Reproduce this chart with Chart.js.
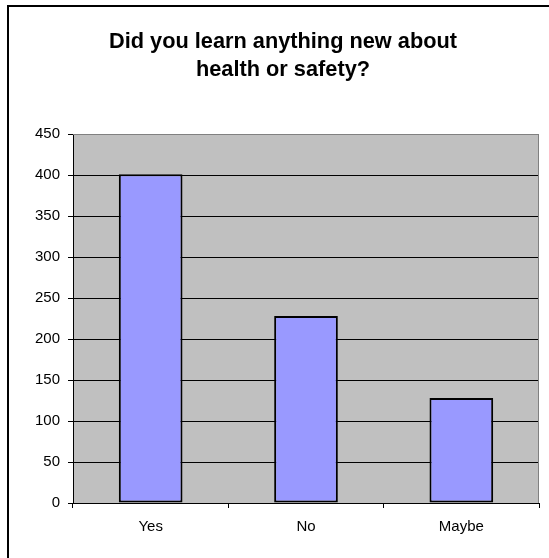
<!DOCTYPE html>
<html>
<head>
<meta charset="utf-8">
<title>Did you learn anything new about health or safety?</title>
<script src="https://cdn.jsdelivr.net/npm/chart.js@4.4.1/dist/chart.umd.min.js"></script>
<style>
    html, body { margin: 0; padding: 0; background: #fff; }
    #wrap { width: 549px; height: 558px; }
</style>
</head>
<body>
<div id="wrap"><canvas id="surveyChart" width="549" height="558"></canvas></div>
<script>
// Dados do gráfico
const categories = ['Yes', 'No', 'Maybe'];
const answers = [401, 228, 128];
const titleLines = ['Did you learn anything new about', 'health or safety?'];

const fontFamily = '"Liberation Sans", Arial, sans-serif';

// Fundo cinza da área do gráfico e moldura externa
const plotBackground = {
    id: 'plotBackground',
    beforeDraw(chart) {
        const ctx = chart.ctx;
        const area = chart.chartArea;
        ctx.save();
        ctx.fillStyle = '#fff';
        ctx.fillRect(0, 0, chart.width, chart.height);
        ctx.strokeStyle = '#000';
        ctx.lineWidth = 2;
        ctx.strokeRect(8, 6, chart.width + 20, chart.height + 20);
        ctx.fillStyle = '#c0c0c0';
        ctx.fillRect(area.left, area.top, area.right - area.left, area.bottom - area.top);
        ctx.restore();
    },
    beforeDatasetsDraw(chart) {
        const ctx = chart.ctx;
        const area = chart.chartArea;
        ctx.save();
        ctx.strokeStyle = '#808080';
        ctx.lineWidth = 1;
        ctx.beginPath();
        ctx.moveTo(area.left, area.top + 0.5);
        ctx.lineTo(area.right - 0.5, area.top + 0.5);
        ctx.lineTo(area.right - 0.5, area.bottom);
        ctx.stroke();
        ctx.restore();
    }
};

const ctx = document.getElementById('surveyChart').getContext('2d');

new Chart(ctx, {
    type: 'bar',
    data: {
        labels: categories,
        datasets: [{
            data: answers,
            backgroundColor: '#9999ff',
            borderColor: '#000',
            borderWidth: 2,
            borderSkipped: false,
            categoryPercentage: 1,
            barPercentage: 0.41
        }]
    },
    options: {
        responsive: false,
        animation: false,
        layout: {
            padding: { left: 27, right: 10, top: 0, bottom: 0 }
        },
        plugins: {
            legend: { display: false },
            tooltip: { enabled: false },
            title: {
                display: true,
                text: titleLines,
                color: '#000',
                font: { family: fontFamily, size: 21.75, weight: 'bold', lineHeight: 28 / 21.75 },
                padding: { top: 28, bottom: 50 }
            }
        },
        scales: {
            x: {
                grid: {
                    drawOnChartArea: false,
                    drawTicks: true,
                    tickLength: 5,
                    color: '#000'
                },
                border: { color: '#000', width: 1 },
                ticks: {
                    color: '#000',
                    padding: 10,
                    font: { family: fontFamily, size: 15 }
                },
                afterFit(scale) {
                    scale.height = 55;
                }
            },
            y: {
                min: 0,
                max: 450,
                grid: {
                    color: (c) => (c.tick && c.tick.value === 450 ? '#808080' : '#000'),
                    tickColor: '#000',
                    tickLength: 5,
                    lineWidth: 1
                },
                border: { color: '#000', width: 1 },
                ticks: {
                    stepSize: 50,
                    color: '#000',
                    padding: 8,
                    font: { family: fontFamily, size: 15 }
                },
                afterFit(scale) {
                    scale.width = 46;
                }
            }
        }
    },
    plugins: [plotBackground]
});
</script>
</body>
</html>
